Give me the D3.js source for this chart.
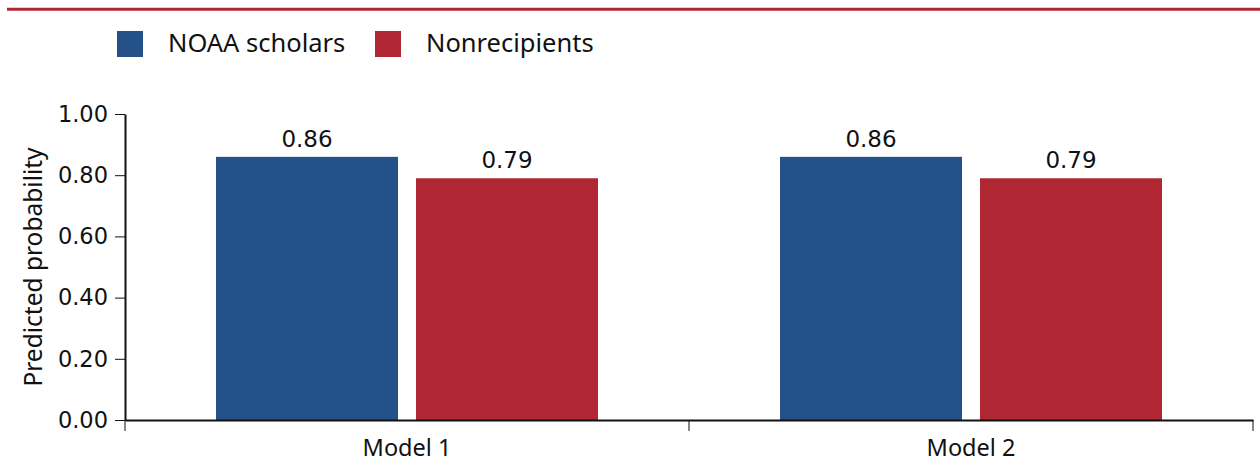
<!DOCTYPE html>
<html>
<head>
<meta charset="utf-8">
<script src="https://cdn.jsdelivr.net/npm/d3@7"></script>
<style>
  html, body { margin: 0; padding: 0; background: #fff; }
  svg { display: block; }
</style>
</head>
<body>
<svg id="chart" width="1260" height="466"></svg>
<script>
// Chart data
const models = ["Model 1", "Model 2"];
const seriesNames = ["NOAA scholars", "Nonrecipients"];
const noaaScholars = [0.86, 0.86];
const nonrecipients = [0.79, 0.79];
const yTicks = [0, 0.2, 0.4, 0.6, 0.8, 1.0];
const seriesColors = ["#245288", "#b02733"];

const seriesValues = [noaaScholars, nonrecipients];
const rows = models.map((m, i) => ({
  model: m,
  values: seriesNames.map((s, j) => ({ series: s, value: seriesValues[j][i] }))
}));

const svg = d3.select("#chart");
const numFont = "'DejaVu Sans', sans-serif";
const textFont = "'Noto Sans', sans-serif";

const plot = { left: 125, right: 1253, top: 114, bottom: 420 };

const x0 = d3.scaleBand().domain(models).range([plot.left, plot.right]).paddingInner(0).paddingOuter(0);
const x1 = d3.scaleBand().domain(seriesNames).range([0, x0.bandwidth()])
  .paddingInner(0.09).paddingOuter(0.455);
const y = d3.scaleLinear().domain([0, 1]).range([plot.bottom, plot.top]);
const color = d3.scaleOrdinal().domain(seriesNames).range(seriesColors);

// Top rule
svg.append("line")
  .attr("x1", 7).attr("x2", 1260).attr("y1", 9.3).attr("y2", 9.3)
  .attr("stroke", "#b02733").attr("stroke-width", 3);

// Legend
const legendX = [117, 375];
const legend = svg.append("g");
seriesNames.forEach((s, i) => {
  legend.append("rect")
    .attr("x", legendX[i]).attr("y", 31).attr("width", 26).attr("height", 26)
    .attr("fill", color(s));
  legend.append("text")
    .attr("x", legendX[i] + 51).attr("y", 52)
    .attr("font-family", textFont).attr("font-size", 25.5).attr("fill", "#111")
    .text(s);
});

// Bars
const groups = svg.append("g").selectAll("g").data(rows).join("g")
  .attr("transform", d => `translate(${x0(d.model)},0)`);

groups.selectAll("rect").data(d => d.values).join("rect")
  .attr("x", d => x1(d.series))
  .attr("width", x1.bandwidth())
  .attr("y", d => y(d.value))
  .attr("height", d => y(0) - y(d.value))
  .attr("fill", d => color(d.series));

groups.selectAll("text").data(d => d.values).join("text")
  .attr("x", d => x1(d.series) + x1.bandwidth() / 2)
  .attr("y", d => y(d.value) - 10)
  .attr("text-anchor", "middle")
  .attr("font-family", numFont).attr("font-size", 23).attr("fill", "#111")
  .text(d => d3.format(".2f")(d.value));

// Y axis
const yAxis = svg.append("g")
  .attr("transform", `translate(${plot.left},0)`)
  .call(d3.axisLeft(y).tickValues(yTicks).tickFormat(d3.format(".2f")).tickSize(10).tickPadding(7).tickSizeOuter(0));
yAxis.select(".domain").attr("stroke", "#111").attr("stroke-width", 2);
yAxis.selectAll(".tick line").attr("stroke", "#111").attr("stroke-width", 1);
yAxis.selectAll(".tick text")
  .attr("font-family", numFont).attr("font-size", 22.5).attr("fill", "#111");

// X axis
const xAxis = svg.append("g")
  .attr("transform", `translate(0,${plot.bottom})`)
  .call(d3.axisBottom(x0).tickSize(0).tickPadding(19).tickSizeOuter(0));
xAxis.select(".domain").attr("stroke", "#111").attr("stroke-width", 2);
xAxis.selectAll(".tick text")
  .attr("font-family", textFont).attr("font-size", 23.5).attr("fill", "#111");

// Category separators below the baseline
const sepPositions = [plot.left].concat(models.map(m => x0(m) + x0.bandwidth()));
svg.append("g").selectAll("line").data(sepPositions).join("line")
  .attr("x1", d => d).attr("x2", d => d)
  .attr("y1", plot.bottom).attr("y2", plot.bottom + 11)
  .attr("stroke", "#111").attr("stroke-width", 1);

// Y axis title
svg.append("text")
  .attr("transform", `translate(42,${(plot.top + plot.bottom) / 2}) rotate(-90)`)
  .attr("text-anchor", "middle")
  .attr("font-family", textFont).attr("font-size", 24.5).attr("fill", "#111")
  .text("Predicted probability");
</script>
</body>
</html>
